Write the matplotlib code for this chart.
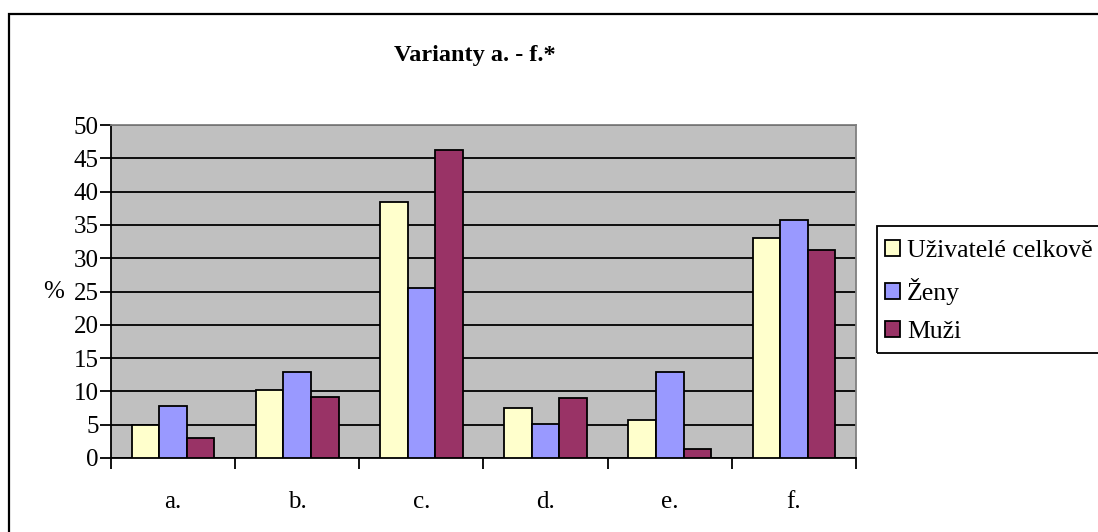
import matplotlib.pyplot as plt
import numpy as np
from matplotlib.patches import Rectangle

plt.rcParams['font.family'] = ['Liberation Serif', 'DejaVu Serif']

categories = ["a.", "b.", "c.", "d.", "e.", "f."]
uzivatele = [4.9, 10.2, 38.5, 7.5, 5.7, 33.1]
zeny = [7.8, 12.9, 25.6, 5.1, 12.9, 35.8]
muzi = [3.0, 9.1, 46.3, 9.0, 1.4, 31.2]
series_names = ["Uživatelé celkově", "Ženy", "Muži"]
colors = ["#FFFFCC", "#9999FF", "#993366"]

fig = plt.figure(figsize=(10.98, 5.32), dpi=100)
ax = fig.add_axes([111/1098, 1-458/532, 745/1098, 333/532])
ax.set_facecolor("#C0C0C0")

x = np.arange(len(categories))
w = 1/4.5
handles = []
for i, (vals, c) in enumerate(zip([uzivatele, zeny, muzi], colors)):
    b = ax.bar(x + (i-1)*w, vals, width=w, color=c, edgecolor="black",
               linewidth=1.3, zorder=3)
    handles.append(b)

ax.set_xlim(-0.5, len(categories)-0.5)
ax.set_ylim(0, 50)
ax.set_yticks(range(0, 51, 5))
ax.yaxis.grid(True, color="black", linewidth=1.3, zorder=1)
ax.set_axisbelow(True)
ax.tick_params(axis="y", direction="out", length=8, width=1.3,
               labelsize=18, pad=1)
ax.set_xticks(np.arange(-0.5, len(categories)), minor=False)
ax.set_xticklabels([])
ax.set_xticks(x, minor=True)
ax.set_xticklabels(categories, minor=True)
ax.tick_params(axis="x", which="major", direction="out", length=8, width=1.3)
ax.tick_params(axis="x", which="minor", length=0, labelsize=18, pad=24)
for s in ["top", "right"]:
    ax.spines[s].set_color("#808080")
    ax.spines[s].set_linewidth(1.3)
for s in ["left", "bottom"]:
    ax.spines[s].set_color("black")
    ax.spines[s].set_linewidth(1.3)

ax.set_ylabel("%", rotation=0, fontsize=18, labelpad=14, va="center")

fig.text(475/1098, 1-56/532, "Varianty a. - f.*", ha="center", va="center",
         fontsize=17.5, fontweight="bold")

# chart border
fig.patches.append(Rectangle((9/1098, -0.05), 1.2, 1.05-14/532, transform=fig.transFigure,
                             fill=False, edgecolor="black", linewidth=1.6))
# legend box
fig.patches.append(Rectangle((877/1098, 1-353/532), 0.3, 127/532,
                             transform=fig.transFigure, fill=False,
                             edgecolor="black", linewidth=1.3))
fig.legend(handles, series_names, loc="upper left",
           bbox_to_anchor=(885/1098, 1-240/532), frameon=False, fontsize=18.5,
           handlelength=0.6, handleheight=0.6, handletextpad=0.25,
           labelspacing=0.62, borderaxespad=0, borderpad=0)

fig.savefig("out.png", dpi=100)
